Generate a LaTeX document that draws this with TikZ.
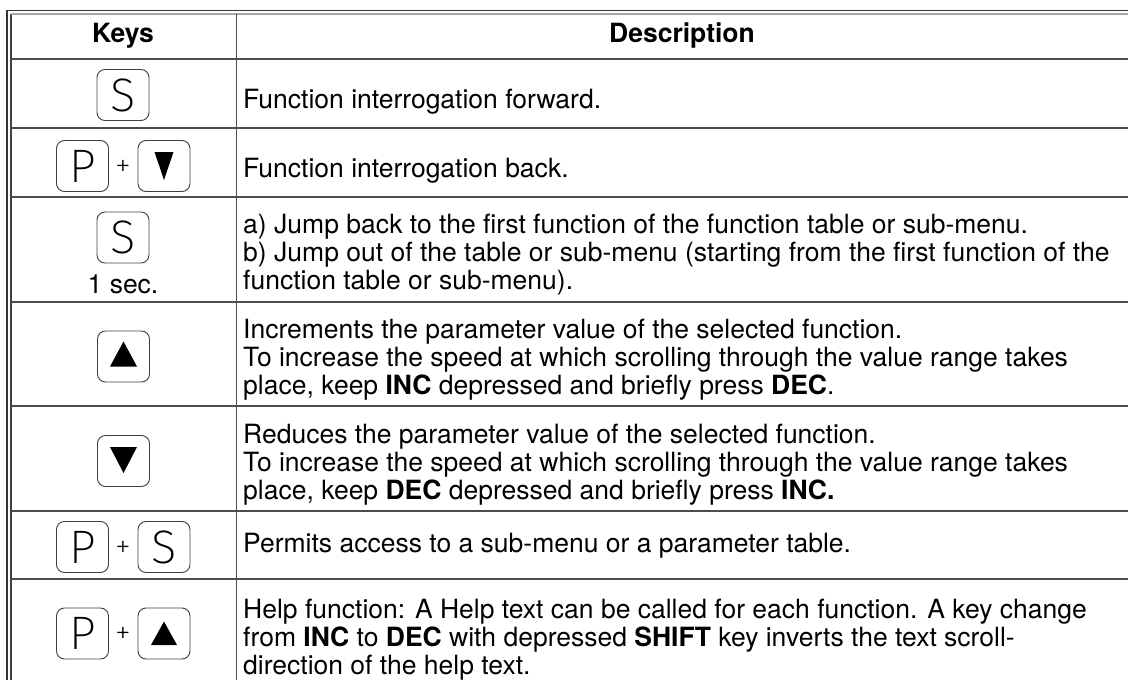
\documentclass[tikz,border=0pt]{standalone}
\usepackage{fontspec}
\setmainfont{TeX Gyre Heros}
\newfontfamily\keyfont{Fira Sans ExtraLight}
\begin{document}
\begin{tikzpicture}[x=1pt,y=-1pt,line join=round,
	font=\fontsize{26.5}{28}\selectfont,
	rule/.style={line width=1.4pt,black!70},
	keycap/.style={draw=black!75,line width=0.9pt,rounded corners=8pt,minimum width=52pt,minimum height=51pt,inner sep=0pt,font=\keyfont\fontsize{47}{47}\selectfont},
	plus/.style={inner sep=0pt,font=\keyfont\fontsize{32}{32}\selectfont},
	desc/.style={anchor=base west,align=left,inner sep=0pt},
	head/.style={anchor=base,inner sep=0pt,font=\fontsize{26.5}{28}\selectfont\bfseries}]
	\useasboundingbox (0,0) rectangle (1128,680);
	\path
	(7,680) coordinate (L)
	(11,680) coordinate (L')
	(236.5,680) coordinate (C)
	;
	% frame, double on top and left
	\draw[rule,black!80] (L) -- (7,10.5) -- (1128,10.5);
	\draw[rule,black!75] (L') -- (11,14);
	\draw[rule,black!35] (11,14) -- (1128,14);
	\draw[rule] (236.5,14) -- (C);
	\foreach \y in {59,128,197,302,406,511,579}
	\draw[rule] (11,\y) -- (1128,\y);
	% header
	\node[head] (keys) at (123,42) {Keys};
	\node[head] (descr) at (682,42) {Description};
	% keys
	\node[keycap] (s1) at (123,95) {S};
	\node[keycap] (p2) at (82.5,166) {P};
	\node[plus] (plus2) at (123,168) {+};
	\node[keycap] (d2) at (164,166) {};
	\fill[shift={(d2.center)}] (-9.5,-14) -- (9.5,-14) -- (0,14) -- cycle;
	\node[keycap] (s3) at (123,237.5) {S};
	\node[anchor=base,inner sep=0pt] (sec) at (123,293) {1 sec.};
	\node[keycap] (u4) at (123.5,356.5) {};
	\fill[shift={(u4.center)}] (-13.5,10) -- (13.5,10) -- (0,-15) -- cycle;
	\node[keycap] (d5) at (123.5,461) {};
	\fill[shift={(d5.center)}] (-13.5,-14) -- (13.5,-14) -- (0,12) -- cycle;
	\node[keycap] (p6) at (82.5,547) {P};
	\node[plus] (plus6) at (123,549) {+};
	\node[keycap] (s6) at (164,547) {S};
	\node[keycap] (p7) at (82.5,633.5) {P};
	\node[plus] (plus7) at (123,635.5) {+};
	\node[keycap] (u7) at (164,633.5) {};
	\fill[shift={(u7.center)}] (-13,11.5) -- (13,11.5) -- (0,-12) -- cycle;
	% descriptions (base = last line)
	\node[desc] (t1) at (243,108) {Function interrogation forward.};
	\node[desc] (t2) at (243,177) {Function interrogation back.};
	\node[desc] (t3) at (243,289) {a) Jump back to the first function of the function table or sub-menu.\\
		b) Jump out of the table or sub-menu (starting from the first function of the\\
		function table or sub-menu).};
	\node[desc] (t4) at (243,394.5) {Increments the parameter value of the selected function.\\
		To increase the speed at which scrolling through the value range takes\\
		place, keep \textbf{INC} depressed and briefly press \textbf{DEC}.};
	\node[desc] (t5) at (243,499.5) {Reduces the parameter value of the selected function.\\
		To increase the speed at which scrolling through the value range takes\\
		place, keep \textbf{DEC} depressed and briefly press \textbf{INC.}};
	\node[desc] (t6) at (243,552) {Permits access to a sub-menu or a parameter table.};
	\node[desc] (t7) at (243,674) {Help function: A Help text can be called for each function. A key change\\
		from \textbf{INC} to \textbf{DEC} with depressed \textbf{SHIFT} key inverts the text scroll-\\
		direction of the help text.};
\end{tikzpicture}
\end{document}
